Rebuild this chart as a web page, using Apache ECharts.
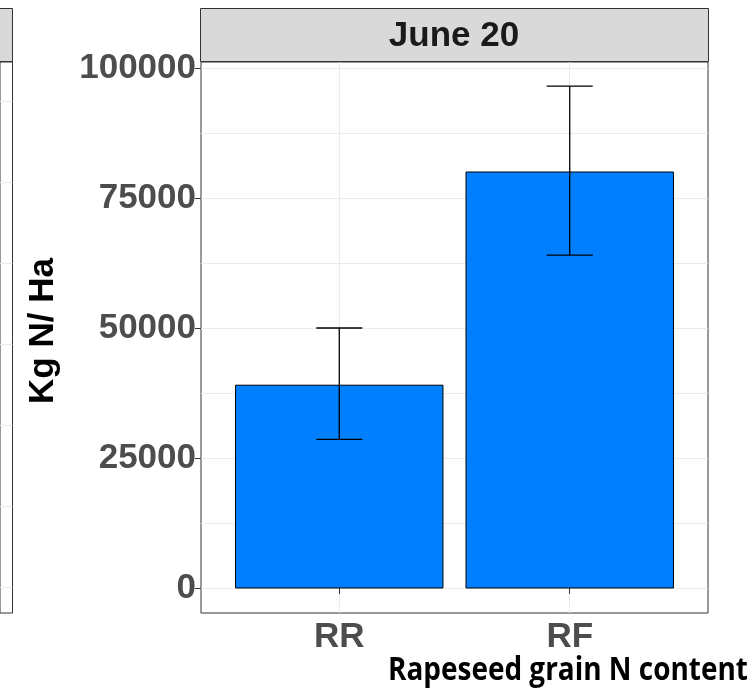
<!DOCTYPE html>
<html><head><meta charset="utf-8">
<script src="https://cdn.jsdelivr.net/npm/echarts@6/dist/echarts.min.js"></script>
<style>html,body{margin:0;padding:0;background:#fff}#c{width:754px;height:694px}</style>
</head><body><div id="c"></div>
<script>
// ---- data ----
const categories = ['RR', 'RF'];
const meanN = [39000, 80000];
const lowN = [28600, 64000];
const highN = [50000, 96500];
const yTicks = [0, 25000, 50000, 75000, 100000];
const yGrid = [0, 12500, 25000, 37500, 50000, 62500, 75000, 87500, 100000];
const leftPanelGrid = [0, 1, 2, 3, 4, 5, 6];
const facetTitle = 'June 20';
const yTitle = 'Kg N/ Ha';
const xTitle = 'Rapeseed grain N content';

const barData = categories.map((c, i) => [i + 1, meanN[i]]);
const errData = categories.map((c, i) => [i + 1, lowN[i], highN[i]]);
const xPos = categories.map((c, i) => i + 1);

const FONT = "'Liberation Sans', Arial, sans-serif";
const TITLE_FONT = "bold 33px 'Open Sans', 'Noto Sans', sans-serif";
const GRIDC = '#EBEBEB';

// fit the bottom title into its measured span
const mc = document.createElement('canvas').getContext('2d');
mc.font = TITLE_FONT;
const titleW = mc.measureText(xTitle).width;
const titleScale = 360 / titleW;

const chart = echarts.init(document.getElementById('c'), null, {renderer: 'canvas'});
chart.setOption({
  backgroundColor: '#fff',
  animation: false,
  grid: [
    {left: 201, right: 46, top: 62, bottom: 81, show: true, borderColor: '#333', borderWidth: 1, backgroundColor: '#fff'},
    {left: -3, width: 15.5, top: 62, bottom: 81, show: true, borderColor: '#333', borderWidth: 1, backgroundColor: '#fff'}
  ],
  xAxis: [
    {
      gridIndex: 0, type: 'value', min: 0.4, max: 2.6,
      axisLine: {show: false},
      axisTick: {show: true, customValues: xPos, length: 6, lineStyle: {color: '#333', width: 1}},
      axisLabel: {customValues: xPos, formatter: v => categories[Math.round(v) - 1] || '',
        color: '#4D4D4D', fontSize: 35, fontWeight: 'bold', fontFamily: FONT, margin: 7},
      splitLine: {show: true, lineStyle: {color: GRIDC, width: 1}}
    },
    {
      gridIndex: 1, type: 'value', min: 0, max: 1,
      axisLine: {show: false}, axisTick: {show: false}, axisLabel: {show: false}, splitLine: {show: false}
    }
  ],
  yAxis: [
    {
      gridIndex: 0, type: 'value', position: 'left', min: -4808, max: 101154,
      axisLine: {show: false},
      axisTick: {show: false, customValues: yGrid},
      axisLabel: {show: false},
      splitLine: {show: true, lineStyle: {color: GRIDC, width: 1}}
    },
    {
      gridIndex: 0, type: 'value', position: 'left', min: -4808, max: 101154,
      axisLine: {show: false},
      axisTick: {show: true, customValues: yTicks, length: 6, lineStyle: {color: '#333', width: 1}},
      axisLabel: {customValues: yTicks, formatter: v => String(v), color: '#4D4D4D', fontSize: 35, fontWeight: 'bold', fontFamily: FONT, margin: 5},
      splitLine: {show: false}
    },
    {
      gridIndex: 1, type: 'value', position: 'left', min: -0.321, max: 6.48,
      axisLine: {show: false},
      axisTick: {show: false, customValues: leftPanelGrid},
      axisLabel: {show: false},
      splitLine: {show: true, lineStyle: {color: GRIDC, width: 1}}
    }
  ],
  series: [
    {
      type: 'custom', xAxisIndex: 0, yAxisIndex: 0, data: barData, z: 3,
      encode: {x: 0, y: 1},
      renderItem: function (params, api) {
        const x = api.value(0), y = api.value(1);
        const p0 = api.coord([x - 0.45, 0]);
        const p1 = api.coord([x + 0.45, y]);
        return {type: 'rect',
          shape: {x: p0[0], y: p1[1], width: p1[0] - p0[0], height: p0[1] - p1[1]},
          style: {fill: '#0080FF', stroke: '#000', lineWidth: 1}};
      }
    },
    {
      type: 'custom', xAxisIndex: 0, yAxisIndex: 0, data: errData, z: 4,
      encode: {x: 0, y: [1, 2]},
      renderItem: function (params, api) {
        const x = api.value(0);
        const lo = api.coord([x, api.value(1)]);
        const hi = api.coord([x, api.value(2)]);
        const hw = api.size([0.1, 0])[0];
        const st = {stroke: '#000', lineWidth: 1.3};
        return {type: 'group', children: [
          {type: 'line', shape: {x1: lo[0], y1: lo[1], x2: hi[0], y2: hi[1]}, style: st},
          {type: 'line', shape: {x1: lo[0] - hw, y1: lo[1], x2: lo[0] + hw, y2: lo[1]}, style: st},
          {type: 'line', shape: {x1: hi[0] - hw, y1: hi[1], x2: hi[0] + hw, y2: hi[1]}, style: st}
        ]};
      }
    }
  ],
  graphic: [
    {type: 'rect', shape: {x: 200.5, y: 8.5, width: 508, height: 53}, style: {fill: '#D9D9D9', stroke: '#333', lineWidth: 1}, z: 10},
    {type: 'text', x: 454, y: 36, style: {text: facetTitle, font: "bold 35px " + FONT, fill: '#1A1A1A', textAlign: 'center', textVerticalAlign: 'middle'}, z: 11},
    {type: 'rect', shape: {x: -10, y: 8.5, width: 22.5, height: 53}, style: {fill: '#D9D9D9', stroke: '#333', lineWidth: 1}, z: 10},
    {type: 'text', x: 43, y: 331, rotation: Math.PI / 2, style: {text: yTitle, font: "bold 35px " + FONT, fill: '#000', textAlign: 'center', textVerticalAlign: 'middle'}, z: 11},
    {type: 'text', x: 568, y: 671, scaleX: titleScale, style: {text: xTitle, font: TITLE_FONT, fill: '#000', textAlign: 'center', textVerticalAlign: 'middle'}, z: 11}
  ]
});
</script>
</body></html>
